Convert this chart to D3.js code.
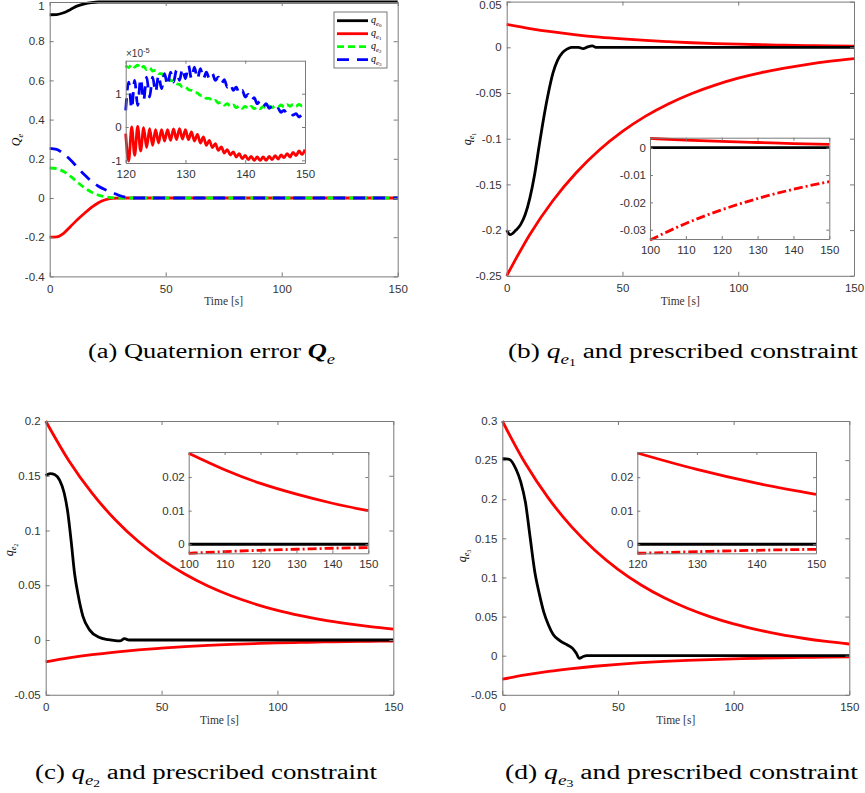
<!DOCTYPE html>
<html>
<head>
<meta charset="utf-8">
<script src="https://cdn.jsdelivr.net/npm/d3@7"></script>
<style>
body { margin: 0; background: #fff; }
.serif { font-family: "Liberation Serif", "Times New Roman", serif; fill: #000; }
</style>
</head>
<body>
<svg id="fig" width="865" height="793"></svg>
<script>
// ---------- data ----------

// (a) quaternion error, whole run
var tA = [0, 3, 6, 9, 12, 15, 18, 21, 24, 27, 30, 33, 36, 40, 150]
var qe0A = [0.935, 0.936, 0.945, 0.962, 0.98, 0.991, 0.997, 1, 1, 1, 1, 1, 1, 1, 1]
var qe1A = [-0.2, -0.198, -0.18, -0.145, -0.11, -0.078, -0.048, -0.024, -0.009, -0.002, 0, 0, 0, 0, 0]
var qe2A = [0.153, 0.15, 0.135, 0.11, 0.08, 0.052, 0.03, 0.015, 0.006, 0.002, 0, 0, 0, 0, 0]
var qe3A = [0.253, 0.248, 0.225, 0.194, 0.155, 0.118, 0.085, 0.06, 0.042, 0.028, 0.013, 0.003, 0, 0, 0]

// (a) zoom 120..150 s, values in units of 1e-5
var tZoom = [120, 120.5, 121, 121.5, 122, 122.5, 123, 123.5, 124, 124.5, 125, 125.5, 126, 126.5, 127, 127.5,
  128, 128.5, 129, 129.5, 130, 130.5, 131, 131.5, 132, 132.5, 133, 133.5, 134, 134.5, 135, 135.5,
  136, 136.5, 137, 137.5, 138, 138.5, 139, 139.5, 140, 140.5, 141, 141.5, 142, 142.5, 143, 143.5,
  144, 144.5, 145, 145.5, 146, 146.5, 147, 147.5, 148, 148.5, 149, 149.5, 150]
var qe1Zoom = [-0.2, -1.02, 0.0, -0.85, 0.02, -0.72, -0.02, -0.62, -0.05, -0.55, -0.08, -0.48, -0.08, -0.42, -0.08, -0.4,
  -0.06, -0.38, -0.05, -0.36, -0.08, -0.38, -0.15, -0.42, -0.22, -0.48, -0.3, -0.55, -0.4, -0.62, -0.5, -0.7,
  -0.6, -0.78, -0.68, -0.84, -0.75, -0.9, -0.8, -0.95, -0.85, -0.98, -0.88, -1.0, -0.9, -1.0, -0.9, -1.0,
  -0.88, -0.98, -0.86, -0.96, -0.84, -0.92, -0.8, -0.9, -0.76, -0.86, -0.72, -0.82, -0.68]
var qe2Zoom = [1.85, 1.78, 1.88, 1.8, 1.86, 1.76, 1.82, 1.72, 1.78, 1.68, 1.7, 1.6, 1.6, 1.5, 1.48, 1.4,
  1.38, 1.3, 1.28, 1.2, 1.2, 1.12, 1.1, 1.04, 1.02, 0.95, 0.94, 0.86, 0.86, 0.78, 0.8, 0.72,
  0.74, 0.66, 0.7, 0.62, 0.66, 0.58, 0.64, 0.56, 0.62, 0.55, 0.62, 0.55, 0.6, 0.55, 0.62, 0.56,
  0.63, 0.58, 0.64, 0.6, 0.66, 0.6, 0.67, 0.62, 0.68, 0.62, 0.68, 0.63, 0.66]
var qe3Zoom = [0.5, 1.35, 0.55, 1.4, 0.65, 1.45, 0.8, 1.5, 0.9, 1.5, 1.05, 1.55, 1.15, 1.6, 1.25, 1.65,
  1.35, 1.7, 1.4, 1.75, 1.45, 1.85, 1.45, 1.8, 1.45, 1.75, 1.45, 1.65, 1.45, 1.6, 1.4, 1.5,
  1.3, 1.42, 1.2, 1.3, 1.1, 1.2, 1.0, 1.1, 0.9, 0.98, 0.8, 0.88, 0.7, 0.78, 0.62, 0.7,
  0.56, 0.62, 0.5, 0.55, 0.44, 0.5, 0.4, 0.45, 0.36, 0.4, 0.3, 0.36, 0.28]

// prescribed constraints, sampled every 10 s
var tBound = [0, 10, 20, 30, 40, 50, 60, 70, 80, 90, 100, 110, 120, 130, 140, 150]
var up1 = [0.025, 0.0205, 0.0168, 0.0137, 0.0112, 0.0092, 0.0075, 0.0062, 0.005, 0.0041, 0.0034, 0.0028, 0.0023, 0.0019, 0.0015, 0.0012]
var low1 = [-0.25, -0.2047, -0.1676, -0.1372, -0.1123, -0.092, -0.0753, -0.0617, -0.0505, -0.0413, -0.0338, -0.0277, -0.0227, -0.0186, -0.0152, -0.0124]
var up2 = [0.2, 0.1637, 0.1341, 0.1098, 0.0899, 0.0736, 0.0602, 0.0493, 0.0404, 0.0331, 0.0271, 0.0222, 0.0181, 0.0149, 0.0122, 0.01]
var low2 = [-0.02, -0.0164, -0.0134, -0.011, -0.009, -0.0074, -0.006, -0.0049, -0.004, -0.0033, -0.0027, -0.0022, -0.0018, -0.0015, -0.0012, -0.001]
var up3 = [0.3, 0.2456, 0.2011, 0.1646, 0.1348, 0.1104, 0.0904, 0.074, 0.0606, 0.0496, 0.0406, 0.0333, 0.0272, 0.0223, 0.0182, 0.0149]
var low3 = [-0.03, -0.0246, -0.0201, -0.0165, -0.0135, -0.011, -0.009, -0.0074, -0.0061, -0.005, -0.0041, -0.0033, -0.0027, -0.0022, -0.0018, -0.0015]

// error components against their constraints
var t1 = [0, 1.5, 4, 6, 8, 10, 12, 14, 16, 18, 20, 22, 24, 26, 28, 31, 33, 35, 37, 38.5, 45, 150]
var qe1 = [-0.2, -0.205, -0.2, -0.194, -0.183, -0.165, -0.14, -0.108, -0.077, -0.05, -0.028, -0.014, -0.006, -0.002, 0, 0, -0.0015, 0.0005, 0.0015, 0, 0, 0]
var t2 = [0, 2, 4, 6, 8, 9.5, 11, 12.5, 14, 16, 19, 23, 27, 30, 32, 34, 36, 150]
var qe2 = [0.15, 0.152, 0.151, 0.146, 0.134, 0.117, 0.09, 0.06, 0.041, 0.022, 0.009, 0.0025, 0.0003, -0.0006, -0.0008, 0.0012, 0, 0]
var t3 = [0, 3, 6, 8, 10, 12, 14, 16, 18, 20, 22, 25, 28, 30.5, 32, 33.3, 35, 36.5, 150]
var qe3 = [0.252, 0.251, 0.238, 0.222, 0.196, 0.152, 0.108, 0.079, 0.055, 0.039, 0.027, 0.019, 0.014, 0.009, 0.003, -0.0035, -0.001, 0, 0]

// tick labels
var xTicksMain = [0, 50, 100, 150]
var yTicksA = [-0.4, -0.2, 0, 0.2, 0.4, 0.6, 0.8, 1]
var yTicksB = [-0.25, -0.2, -0.15, -0.1, -0.05, 0, 0.05]
var yTicksC = [-0.05, 0, 0.05, 0.1, 0.15, 0.2]
var yTicksD = [-0.05, 0, 0.05, 0.1, 0.15, 0.2, 0.25, 0.3]
var xTicksZoomA = [120, 130, 140, 150]
var yTicksZoomA = [-1, 0, 1]
var xTicksZoom100 = [100, 110, 120, 130, 140, 150]
var xTicksZoom120 = [120, 130, 140, 150]
var yTicksZoomB = [-0.03, -0.02, -0.01, 0]
var yTicksZoomCD = [0, 0.01, 0.02]

// ---------- drawing ----------
var svg = d3.select("#fig")
var RED = "#ff0000", GREEN = "#00ff00", BLUE = "#0000ff", BLACK = "#000000"
var fmt = function(d) { return String(+d.toFixed(4)) }

// white axes background
function axesBox(x, y) {
  svg.append("rect")
    .attr("x", x.range()[0]).attr("y", y.range()[1])
    .attr("width", x.range()[1] - x.range()[0])
    .attr("height", y.range()[0] - y.range()[1])
    .attr("fill", "#fff")
}

// MATLAB style box: inward ticks on all four sides, labels left and bottom
function frame(x, y, xt, yt, tk, padX, padY) {
  var L = x.range()[0], R = x.range()[1], B = y.range()[0], T = y.range()[1]
  var g = svg.append("g")
  var sides = [
    [d3.axisBottom(x).tickFormat(fmt), "translate(0," + B + ")", xt, padX],
    [d3.axisTop(x).tickFormat(""), "translate(0," + T + ")", xt, 0],
    [d3.axisLeft(y).tickFormat(fmt), "translate(" + L + ",0)", yt, padY],
    [d3.axisRight(y).tickFormat(""), "translate(" + R + ",0)", yt, 0]
  ]
  sides.forEach(function(s, k) {
    var a = g.append("g").attr("transform", s[1])
      .call(s[0].tickValues(s[2]).tickSizeInner(-tk).tickSizeOuter(0).tickPadding(s[3]))
    a.attr("font-family", "'Liberation Sans', Arial, sans-serif").attr("font-size", 11.5)
    a.select(".domain").attr("stroke", "#7a7a7a").attr("stroke-width", 1)
    a.selectAll(".tick line").attr("stroke", "#7a7a7a").attr("stroke-width", 1)
    a.selectAll(".tick text").attr("fill", "#333")
    // keep the topmost y label inside the page
    if (k === 2) a.selectAll(".tick text").filter(function(d) { return y(d) < 6 }).attr("dy", "0.62em")
  })
  return g
}

function plotLine(x, y, ts, vs, color, width, dash) {
  var pts = ts.map(function(t, i) { return [t, vs[i]] })
  svg.append("path").datum(pts)
    .attr("d", d3.line().x(function(d) { return x(d[0]) }).y(function(d) { return y(d[1]) }).curve(d3.curveMonotoneX))
    .attr("fill", "none").attr("stroke", color).attr("stroke-width", width)
    .attr("stroke-dasharray", dash || null).attr("stroke-linejoin", "round")
}

function inRange(ts, vs, lo, hi) {
  var tt = [], vv = []
  ts.forEach(function(t, i) { if (t >= lo && t <= hi) { tt.push(t); vv.push(vs[i]) } })
  return [tt, vv]
}

// italic symbol with subscript and optional sub-subscript
function mathText(sel, base, sub, subsub, size, bold) {
  sel.append("tspan").attr("font-style", "italic").attr("font-weight", bold ? "bold" : null).text(base)
  sel.append("tspan").attr("font-style", "italic").attr("font-size", size * 0.7).attr("dy", size * 0.28).text(sub)
  var back = size * 0.28
  if (subsub) {
    sel.append("tspan").attr("font-size", size * 0.5).attr("dy", size * 0.14).text(subsub)
    back += size * 0.14
  }
  return back
}

function yLabel(xp, yp, base, sub, subsub, size) {
  var t = svg.append("text").attr("class", "serif").attr("font-size", size)
    .attr("text-anchor", "middle").attr("transform", "translate(" + xp + "," + yp + ") rotate(-90)")
  mathText(t, base, sub, subsub, size, false)
}

function xLabel(xp, yp) {
  svg.append("text").attr("class", "serif").attr("font-size", 11.5).style("fill", "#333")
    .attr("text-anchor", "middle").attr("x", xp).attr("y", yp).text("Time [s]")
}

// caption set wide, the way the LaTeX font in the source runs
function caption(xp, yp, width, letter, base, sub, subsub, rest, bold) {
  var size = 20
  var t = svg.append("text").attr("class", "serif").attr("font-size", size)
    .attr("text-anchor", "middle").attr("x", xp).attr("y", yp)
    .attr("textLength", width).attr("lengthAdjust", "spacingAndGlyphs")
  t.append("tspan").text("(" + letter + ") " + (rest ? "" : "Quaternion error "))
  var back = mathText(t, base, sub, subsub, size, bold)
  if (rest) t.append("tspan").attr("dy", -back).attr("font-size", size).text(" " + rest)
}

var lw = 2.8
var dashG = "7,4", dashB = "12,8", dashDot = "9,3,2,3"

// ----- (a) -----
var xA = d3.scaleLinear().domain([0, 150]).range([49.7, 397.7])
var yA = d3.scaleLinear().domain([-0.4, 1]).range([276.4, 2])
axesBox(xA, yA)
plotLine(xA, yA, tA, qe0A, BLACK, lw)
plotLine(xA, yA, tA, qe1A, RED, lw)
plotLine(xA, yA, tA, qe2A, GREEN, lw, dashG)
plotLine(xA, yA, tA, qe3A, BLUE, lw, dashB)
frame(xA, yA, xTicksMain, yTicksA, 4, 8, 5)
yLabel(20, 140, "Q", "e", null, 12)
xLabel(223.7, 305)

// legend
var legNames = ["0", "1", "2", "3"]
var legColors = [BLACK, RED, GREEN, BLUE]
var legDash = [null, null, dashG, dashB]
svg.append("rect").attr("x", 334).attr("y", 12).attr("width", 53).attr("height", 56)
  .attr("fill", "#fff").attr("stroke", "#555").attr("stroke-width", 0.8)
legNames.forEach(function(n, i) {
  var yy = 20.7 + i * 13
  svg.append("line").attr("x1", 337).attr("x2", 368).attr("y1", yy).attr("y2", yy)
    .attr("stroke", legColors[i]).attr("stroke-width", lw).attr("stroke-dasharray", legDash[i])
  var t = svg.append("text").attr("class", "serif").attr("font-size", 10).attr("x", 371).attr("y", yy + 2)
  mathText(t, "q", "e", n, 10, false)
})

// (a) zoom
var xAz = d3.scaleLinear().domain([120, 150]).range([125.7, 305])
var yAz = d3.scaleLinear().domain([-1.08, 1.99]).range([163, 60.7])
axesBox(xAz, yAz)
plotLine(xAz, yAz, tZoom, qe1Zoom, RED, lw)
plotLine(xAz, yAz, tZoom, qe2Zoom, GREEN, lw, dashG)
plotLine(xAz, yAz, tZoom, qe3Zoom, BLUE, lw, dashB)
frame(xAz, yAz, xTicksZoomA, yTicksZoomA, 3, 7, 4)
var ex = svg.append("text").attr("x", 126).attr("y", 57).attr("font-size", 10)
  .attr("font-family", "'Liberation Sans', Arial, sans-serif").attr("fill", "#333")
ex.append("tspan").text("\u00d710")
ex.append("tspan").attr("font-size", 7.5).attr("dy", -4).text("-5")

// ----- (b) -----
var xB = d3.scaleLinear().domain([0, 150]).range([506.7, 854])
var yB = d3.scaleLinear().domain([-0.25, 0.05]).range([275.8, 1.6])
axesBox(xB, yB)
plotLine(xB, yB, tBound, up1, RED, lw)
plotLine(xB, yB, tBound, low1, RED, lw)
plotLine(xB, yB, t1, qe1, BLACK, lw)
frame(xB, yB, xTicksMain, yTicksB, 4, 8, 5)
yLabel(471, 139, "q", "e", "1", 12)
xLabel(680.3, 305)

var xBz = d3.scaleLinear().domain([100, 150]).range([650, 829.3])
var yBz = d3.scaleLinear().domain([-0.0334, 0.00366]).range([239, 137.7])
axesBox(xBz, yBz)
var s = inRange(tBound, up1, 100, 150)
plotLine(xBz, yBz, s[0], s[1], RED, lw)
s = inRange(t1, qe1, 100, 150)
plotLine(xBz, yBz, [100].concat(s[0]), [0].concat(s[1]), BLACK, lw)
s = inRange(tBound, low1, 100, 150)
plotLine(xBz, yBz, s[0], s[1], RED, lw, dashDot)
frame(xBz, yBz, xTicksZoom100, yTicksZoomB, 3, 7, 4)

// ----- (c) -----
var xC = d3.scaleLinear().domain([0, 150]).range([45.7, 393.3])
var yC = d3.scaleLinear().domain([-0.05, 0.2]).range([694.75, 421])
axesBox(xC, yC)
plotLine(xC, yC, tBound, up2, RED, lw)
plotLine(xC, yC, tBound, low2, RED, lw)
plotLine(xC, yC, t2, qe2, BLACK, lw)
frame(xC, yC, xTicksMain, yTicksC, 4, 8, 5)
yLabel(13, 550, "q", "e", "2", 12)
xLabel(219.5, 724)

var xCz = d3.scaleLinear().domain([100, 150]).range([188.7, 368.3])
var yCz = d3.scaleLinear().domain([-0.0027, 0.02746]).range([553.3, 452])
axesBox(xCz, yCz)
s = inRange(tBound, up2, 100, 150)
plotLine(xCz, yCz, s[0], s[1], RED, lw)
s = inRange(t2, qe2, 100, 150)
plotLine(xCz, yCz, [100].concat(s[0]), [0].concat(s[1]), BLACK, lw)
s = inRange(tBound, low2, 100, 150)
plotLine(xCz, yCz, s[0], s[1], RED, lw, dashDot)
frame(xCz, yCz, xTicksZoom100, yTicksZoomCD, 3, 7, 4)

// ----- (d) -----
var xD = d3.scaleLinear().domain([0, 150]).range([502.3, 849.3])
var yD = d3.scaleLinear().domain([-0.05, 0.3]).range([694.8, 421])
axesBox(xD, yD)
plotLine(xD, yD, tBound, up3, RED, lw)
plotLine(xD, yD, tBound, low3, RED, lw)
plotLine(xD, yD, t3, qe3, BLACK, lw)
frame(xD, yD, xTicksMain, yTicksD, 4, 8, 5)
yLabel(466, 556, "q", "e", "3", 12)
xLabel(675.8, 724)

var xDz = d3.scaleLinear().domain([120, 150]).range([637.3, 816])
var yDz = d3.scaleLinear().domain([-0.0027, 0.0275]).range([553.3, 452])
axesBox(xDz, yDz)
s = inRange(tBound, up3, 120, 150)
plotLine(xDz, yDz, s[0], s[1], RED, lw)
s = inRange(t3, qe3, 120, 150)
plotLine(xDz, yDz, [120].concat(s[0]), [0].concat(s[1]), BLACK, lw)
s = inRange(tBound, low3, 120, 150)
plotLine(xDz, yDz, s[0], s[1], RED, lw, dashDot)
frame(xDz, yDz, xTicksZoom120, yTicksZoomCD, 3, 7, 4)

// ----- captions -----
caption(211.5, 358, 247, "a", "Q", "e", null, null, true)
caption(683, 358, 350, "b", "q", "e", "1", "and prescribed constraint", false)
caption(206, 779, 342, "c", "q", "e", "2", "and prescribed constraint", false)
caption(681.5, 779, 353, "d", "q", "e", "3", "and prescribed constraint", false)
</script>
</body>
</html>
